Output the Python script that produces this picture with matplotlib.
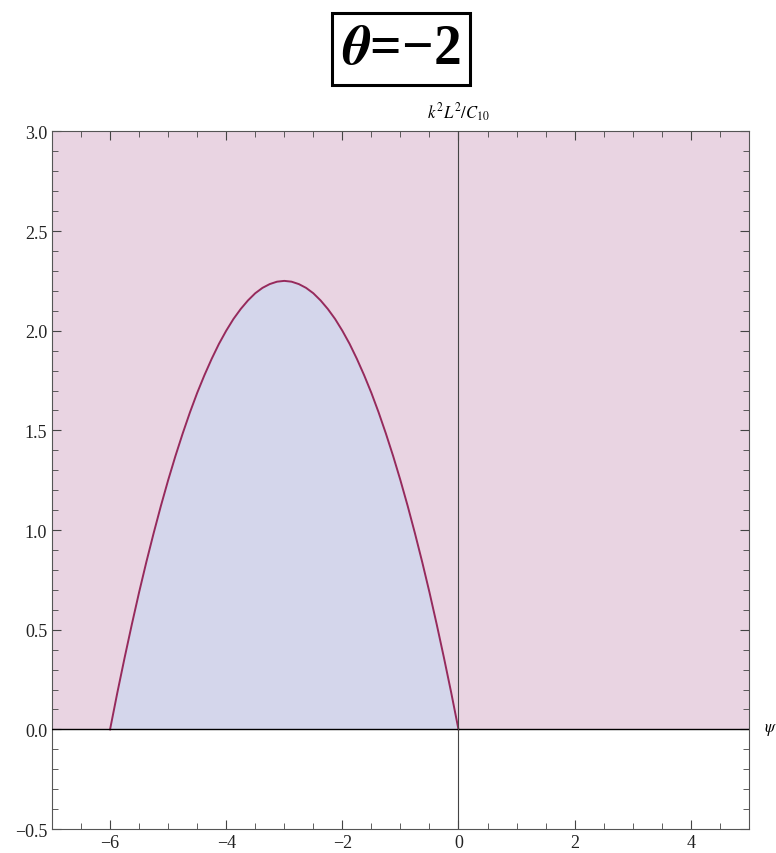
import numpy as np
import matplotlib
matplotlib.use("Agg")
import matplotlib.pyplot as plt
from matplotlib.ticker import MultipleLocator

plt.rcParams["font.family"] = ["Liberation Serif", "DejaVu Serif"]
plt.rcParams["mathtext.fontset"] = "stix"

# ── data ─────────────────────────────────────────────────────────────────────
psi = [-6.0, -5.875, -5.75, -5.625, -5.5, -5.375, -5.25, -5.125, -5.0, -4.875,
       -4.75, -4.625, -4.5, -4.375, -4.25, -4.125, -4.0, -3.875, -3.75, -3.625,
       -3.5, -3.375, -3.25, -3.125, -3.0, -2.875, -2.75, -2.625, -2.5, -2.375,
       -2.25, -2.125, -2.0, -1.875, -1.75, -1.625, -1.5, -1.375, -1.25, -1.125,
       -1.0, -0.875, -0.75, -0.625, -0.5, -0.375, -0.25, -0.125, 0.0]
k2L2 = [0.0, 0.184, 0.359, 0.527, 0.688, 0.840, 0.984, 1.121, 1.25, 1.371,
        1.484, 1.590, 1.688, 1.777, 1.859, 1.934, 2.0, 2.059, 2.109, 2.152,
        2.188, 2.215, 2.234, 2.246, 2.25, 2.246, 2.234, 2.215, 2.188, 2.152,
        2.109, 2.059, 2.0, 1.934, 1.859, 1.777, 1.688, 1.590, 1.484, 1.371,
        1.25, 1.121, 0.984, 0.840, 0.688, 0.527, 0.359, 0.184, 0.0]
x_range = [-7, 5]
y_range = [-0.5, 3.0]
x_ticks = [-6, -4, -2, 0, 2, 4]
y_ticks = [-0.5, 0.0, 0.5, 1.0, 1.5, 2.0, 2.5, 3.0]
x_labels = ["\u22126", "\u22124", "\u22122", "0", "2", "4"]
y_labels = ["\u22120.5", "0.0", "0.5", "1.0", "1.5", "2.0", "2.5", "3.0"]

PINK = "#e9d4e2"
BLUE = "#d4d6eb"
CURVE = "#962a5c"

fig = plt.figure(figsize=(7.76, 8.54), dpi=100)
ax = fig.add_axes([0.067, 0.028, 0.898, 0.817])

# pink region: everything above the psi axis
ax.fill_between(x_range, 0, y_range[1], color=PINK, lw=0, zorder=1)
# blue region under the curve
ax.fill_between(psi, 0, k2L2, color=BLUE, lw=0, zorder=2)
ax.plot(psi, k2L2, color=CURVE, lw=1.4, zorder=4)

# axes through the origin
ax.axhline(0, color="black", lw=1.0, zorder=5)
ax.axvline(0, color="#444444", lw=0.8, zorder=5)

ax.set_xlim(x_range)
ax.set_ylim(y_range)
ax.set_xticks(x_ticks)
ax.set_yticks(y_ticks)
ax.xaxis.set_minor_locator(MultipleLocator(0.5))
ax.yaxis.set_minor_locator(MultipleLocator(0.1))
ax.set_xticklabels(x_labels)
ax.set_yticklabels(y_labels)
ax.tick_params(which="both", direction="in", top=True, right=True, labelsize=13,
               color="#444444", labelcolor="#222222")
ax.tick_params(which="major", length=6.5, width=0.8)
ax.tick_params(which="minor", length=4.3, width=0.6)
for s in ax.spines.values():
    s.set_color("#555555")
    s.set_linewidth(0.8)

# axis labels, Mathematica style
ax.text(0, 1.012, r"$k^2L^2/C_{10}$", transform=ax.get_xaxis_transform(),
        ha="center", va="bottom", fontsize=12)
ax.text(1.022, 0, r"$\psi$", transform=ax.get_yaxis_transform(),
        ha="left", va="center", fontsize=12)

# boxed title
fig.text(0.517, 0.941, r"$\boldsymbol{\theta}$=" + "\u22122",
         ha="center", va="center", fontsize=40, fontweight="bold",
         bbox=dict(boxstyle="square,pad=0.18", fc="white", ec="black", lw=2.2))

fig.savefig("out.png", dpi=100)
